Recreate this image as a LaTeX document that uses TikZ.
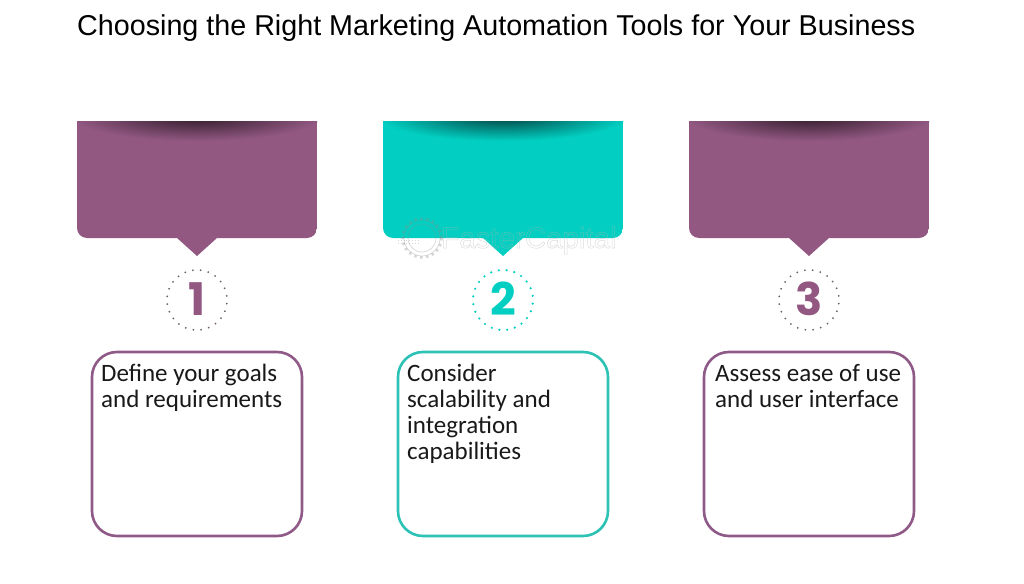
\documentclass[tikz,border=0pt]{standalone}
\usepackage{fontspec}
\setmainfont{Carlito}
\newfontfamily\titlefont{Liberation Sans}
\newfontfamily\digitfont{Poppins}
\usetikzlibrary{calc}
\definecolor{plum}{HTML}{925882}
\definecolor{plumdark}{HTML}{2E1A28}
\definecolor{plumline}{HTML}{8F5A88}
\definecolor{teal2}{HTML}{02CFC1}
\definecolor{tealdark}{HTML}{033F3F}
\definecolor{tealline}{HTML}{2CC2B6}
\definecolor{dotgray}{HTML}{6E5E6C}
\tikzset{
  x=1pt,y=-1pt,
  titletext/.style={inner sep=0pt,anchor=base west,font=\titlefont\fontsize{28.7}{30}\selectfont,text=black},
  bodytext/.style={inner sep=0pt,anchor=north west,align=left,font=\fontsize{25}{26}\selectfont,text=black!90},
  numtext/.style={inner sep=0pt,font=\digitfont\bfseries\fontsize{45}{45}\selectfont},
  cardbox/.style={draw,line width=2.6pt,rounded corners=25pt,fill=white},
  markmark/.style={inner sep=0pt,font=\titlefont\fontsize{29.5}{31}\selectfont},
}
\newcommand{\banner}[4]{%
  \begin{scope}
    \clip (#1,121) -- (#1+240,121) -- (#1+240,228) arc[start angle=0,end angle=90,radius=10] -- (#1+140,238) -- (#1+120,256) -- (#1+100,238) -- (#1+10,238) arc[start angle=90,end angle=180,radius=10] -- cycle;
    \fill[#2] (#1,121) rectangle (#1+240,256);
    \shade[inner color=#3,outer color=#2] (#1+120,116) ellipse[x radius=125,y radius=25];
  \end{scope}
  \coordinate (#4) at (#1+120,121);
}
\newcommand{\dotring}[3]{%
  \foreach \a in {0,15,...,345}{
    \fill[#3] ($(#1,300)+(\a+7:30)$) circle[radius=#2];
  }
}
\newcommand{\firstline}{\rule{0pt}{19pt}}
\begin{document}
\begin{tikzpicture}
\useasboundingbox (0,0) rectangle (1024,583);
\fill[white] (0,0) rectangle (1024,583);
\node[titletext] (title) at (77,36) {Choosing the Right Marketing Automation Tools for Your Business};

\banner{77}{plum}{plumdark}{b1}
\banner{383}{teal2}{tealdark}{b2}
\banner{689}{plum}{plumdark}{b3}

% watermark
\begin{scope}[draw=black!45,draw opacity=.35]
  \draw[line width=.7pt] (422,238) circle[radius=14];
  \draw[line width=.7pt] (422,238) circle[radius=18];
  \draw[line width=2.5pt,dash pattern=on 2.5pt off 3.5pt] (422,238) circle[radius=19.5];
  \draw[line width=.8pt,dotted] (398,240) -- (418,240);
  \draw[line width=.8pt,dotted] (398,243) -- (418,243);
\end{scope}
\node[markmark,anchor=base west,text=black!30,text opacity=.45] (mark) at (441,248) {\special{pdf:literal direct 1 Tr 0.5 w}FasterCapital\special{pdf:literal direct 0 Tr}};

\dotring{197}{1}{dotgray}
\dotring{503}{1.2}{teal2}
\dotring{809}{1}{dotgray}
\node[numtext,text=plum]  (n1) at (197,299) {1};
\node[numtext,text=teal2] (n2) at (503,299) {2};
\node[numtext,text=plum]  (n3) at (809,299) {3};

\draw[cardbox,draw=plumline] (92,352) rectangle (302,536);
\draw[cardbox,draw=tealline] (398,352) rectangle (608,536);
\draw[cardbox,draw=plumline] (704,352) rectangle (914,536);

\node[bodytext] (t1) at (101,362.5) {\firstline Define your goals\\and requirements};
\node[bodytext] (t2) at (407,362.5) {\firstline Consider\\scalability and\\integration\\capabilities};
\node[bodytext] (t3) at (715,362.5) {\firstline Assess ease of use\\and user interface};
\end{tikzpicture}
\end{document}
